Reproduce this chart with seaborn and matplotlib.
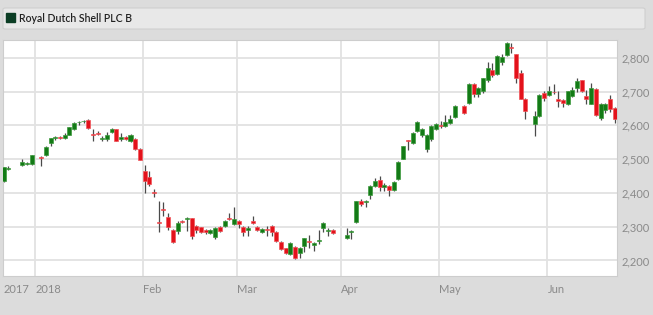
import numpy as np
import pandas as pd
import matplotlib
matplotlib.use("Agg")
import matplotlib.pyplot as plt
import seaborn as sns
from matplotlib.patches import Rectangle, FancyBboxPatch

# ---------------- data ----------------
title = "Royal Dutch Shell PLC B"
holidays = ["2017-12-25", "2017-12-26", "2018-01-01", "2018-03-30",
            "2018-04-02", "2018-05-07", "2018-05-28"]
dates = pd.bdate_range("2017-12-21", "2018-06-21", freq="C", holidays=holidays)

opens = [
    2435, 2472, 2482, 2487, 2486,
    2506, 2511, 2549, 2564, 2567, 2563, 2573, 2588, 2609, 2612,
    2617, 2576, 2579, 2561, 2561, 2580, 2588, 2561, 2566, 2555, 2560, 2531,
    2464, 2446, 2402, 2314, 2353, 2330, 2290, 2288, 2317, 2324,
    2325, 2303, 2298, 2290, 2281, 2270, 2300, 2302, 2326, 2308,
    2318, 2298, 2290, 2318, 2300, 2285, 2292, 2303, 2285, 2256,
    2236, 2219, 2241, 2223, 2243, 2259, 2245, 2258, 2296, 2288, 2291,
    2266, 2285, 2313, 2377, 2373, 2395, 2420, 2437, 2418, 2422,
    2409, 2441, 2502, 2556, 2547, 2583, 2573, 2531, 2560, 2588,
    2602, 2597, 2608, 2625, 2657, 2666, 2724, 2694, 2702, 2736,
    2763, 2752, 2788, 2808, 2833, 2811, 2755, 2679, 2603, 2627, 2696,
    2689, 2700, 2679, 2676, 2664, 2686, 2712, 2734, 2686, 2664,
    2707, 2623, 2645, 2679, 2653,
]
highs = [
    2478, 2479, 2502, 2492, 2512,
    2508, 2540, 2563, 2570, 2569, 2577, 2596, 2609, 2614, 2617,
    2618, 2589, 2582, 2568, 2580, 2592, 2590, 2578, 2569, 2575, 2563, 2533,
    2484, 2466, 2412, 2377, 2372, 2340, 2293, 2316, 2320, 2330,
    2327, 2306, 2300, 2294, 2293, 2298, 2302, 2320, 2340, 2357,
    2321, 2301, 2301, 2332, 2303, 2296, 2301, 2305, 2287, 2258,
    2238, 2256, 2244, 2239, 2268, 2275, 2256, 2291, 2314, 2295, 2294,
    2295, 2289, 2377, 2381, 2378, 2424, 2445, 2451, 2428, 2424,
    2434, 2494, 2540, 2558, 2580, 2612, 2593, 2575, 2600, 2606,
    2614, 2630, 2630, 2660, 2660, 2727, 2727, 2715, 2741, 2788,
    2786, 2808, 2812, 2846, 2843, 2813, 2763, 2681, 2642, 2692, 2703,
    2717, 2723, 2703, 2678, 2703, 2714, 2741, 2736, 2704, 2727,
    2710, 2665, 2667, 2690, 2655,
]
lows = [
    2433, 2468, 2480, 2484, 2483,
    2481, 2508, 2540, 2557, 2561, 2559, 2571, 2586, 2600, 2607,
    2588, 2555, 2572, 2555, 2555, 2578, 2553, 2555, 2558, 2550, 2528, 2497,
    2400, 2422, 2387, 2285, 2331, 2290, 2253, 2278, 2311, 2286,
    2265, 2280, 2280, 2277, 2277, 2265, 2285, 2300, 2320, 2305,
    2296, 2272, 2272, 2308, 2286, 2282, 2272, 2272, 2256, 2232,
    2220, 2216, 2203, 2208, 2226, 2237, 2228, 2250, 2283, 2272, 2278,
    2264, 2264, 2310, 2360, 2359, 2382, 2418, 2405, 2405, 2390,
    2407, 2439, 2500, 2528, 2545, 2580, 2565, 2522, 2555, 2585,
    2592, 2595, 2605, 2622, 2635, 2664, 2685, 2685, 2697, 2730,
    2743, 2750, 2780, 2805, 2815, 2725, 2677, 2618, 2570, 2625, 2672,
    2686, 2694, 2654, 2655, 2660, 2684, 2700, 2699, 2664, 2662,
    2628, 2615, 2637, 2640, 2607,
]
closes = [
    2476, 2475, 2491, 2489, 2511,
    2503, 2537, 2562, 2566, 2564, 2573, 2595, 2607, 2611, 2614,
    2593, 2573, 2575, 2563, 2572, 2589, 2555, 2565, 2561, 2572, 2531, 2499,
    2434, 2427, 2399, 2311, 2350, 2298, 2256, 2310, 2314, 2326,
    2271, 2290, 2285, 2285, 2290, 2296, 2288, 2318, 2323, 2323,
    2308, 2283, 2295, 2311, 2290, 2293, 2289, 2283, 2258, 2235,
    2223, 2253, 2207, 2236, 2266, 2256, 2253, 2262, 2311, 2289, 2280,
    2276, 2287, 2375, 2367, 2375, 2422, 2434, 2417, 2425, 2409,
    2431, 2491, 2538, 2554, 2578, 2610, 2590, 2572, 2598, 2603,
    2600, 2610, 2620, 2657, 2637, 2724, 2694, 2712, 2739, 2771,
    2749, 2805, 2803, 2843, 2829, 2741, 2679, 2642, 2627, 2689, 2681,
    2702, 2698, 2672, 2666, 2701, 2704, 2731, 2702, 2679, 2711,
    2630, 2662, 2664, 2650, 2620,
]
month_starts = ["2018-01-01", "2018-02-01", "2018-03-01", "2018-04-02",
                "2018-05-01", "2018-06-01"]
month_labels = ["2018", "Feb", "Mar", "Apr", "May", "Jun"]
start_label = "2017"
y_ticks = [2200, 2300, 2400, 2500, 2600, 2700, 2800]

# ---------------- build table ----------------
df = pd.DataFrame({"date": dates, "open": opens, "high": highs,
                   "low": lows, "close": closes})
ref = np.datetime64("2018-01-01")
df["x"] = np.busday_count(ref, df["date"].values.astype("datetime64[D]"))
df["up"] = df["close"] >= df["open"]

# ---------------- style ----------------
sns.set_theme(style="white")
plt.rcParams["font.family"] = ["Lato", "DejaVu Sans"]

W, H = 653, 315
fig = plt.figure(figsize=(W / 100, H / 100), dpi=100)
fig.patch.set_facecolor("#dcdcdc")

# header band
fig.patches.append(FancyBboxPatch((3 / W, 1 - 29 / H), 642 / W, 21 / H,
                                  boxstyle="round,pad=0,rounding_size=0.004",
                                  transform=fig.transFigure,
                                  facecolor="#e8e8e8", edgecolor="#cfcfcf",
                                  linewidth=0.8, zorder=0))
fig.patches.append(Rectangle((6 / W, 1 - 22 / H), 9 / W, 9 / H,
                             transform=fig.transFigure,
                             facecolor="#0b3d24", edgecolor="#0b3d24", zorder=1))
fig.text(19 / W, 1 - 18 / H, title, fontsize=7.6, color="#222222",
         va="center", ha="left", fontweight="semibold")

ax = fig.add_axes([3 / W, 39 / H, 614 / W, 236 / H])
ax.set_facecolor("white")

x0, x1 = -7.13, 123.5
ax.set_xlim(x0, x1)
ax.set_ylim(2154, 2853)

# gridlines
grid_c = "#e2e2e2"
for yv in y_ticks:
    ax.axhline(yv, color=grid_c, lw=1.3, zorder=1)
month_x = [np.busday_count(ref, np.datetime64(m)) - 0.3 for m in month_starts]
for xv in month_x:
    ax.axvline(xv, color=grid_c, lw=1.3, zorder=1)

# candles
green, green_e = "#137a16", "#3d9a3d"
red, red_e = "#e3121b", "#f0555a"
body_lo = np.minimum(df["open"], df["close"]).astype(float)
body_h = (df["close"] - df["open"]).abs().astype(float)
mid = (df["open"] + df["close"]) / 2.0
min_h = 2.6
small = body_h < min_h
body_lo[small] = mid[small] - min_h / 2
body_h[small] = min_h

ax.vlines(df["x"], df["low"], df["high"], color="#4a4a4a", lw=0.9, zorder=2)
ax.bar(df["x"], body_h, bottom=body_lo, width=0.86,
       color=np.where(df["up"], green, red),
       edgecolor=np.where(df["up"], green_e, red_e),
       linewidth=0.5, zorder=3)

# axes ticks
ax.yaxis.tick_right()
ax.set_yticks(y_ticks)
ax.set_yticklabels([f"{v:,}" for v in y_ticks])
ax.tick_params(axis="y", length=0, pad=3.6, labelsize=8, labelcolor="#8a8a8a")
for lab in ax.get_yticklabels():
    lab.set_ha("left")

ax.set_xticks([x0 + 0.05] + month_x)
ax.set_xticklabels([start_label] + month_labels)
ax.tick_params(axis="x", length=0, pad=6, labelsize=8, labelcolor="#8a8a8a")
for lab in ax.get_xticklabels():
    lab.set_ha("left")

for s in ax.spines.values():
    s.set_color("#cdcdcd")
    s.set_linewidth(0.8)

ax.set_xlabel("")
ax.set_ylabel("")

fig.savefig("out.png", dpi=100, facecolor=fig.get_facecolor())
